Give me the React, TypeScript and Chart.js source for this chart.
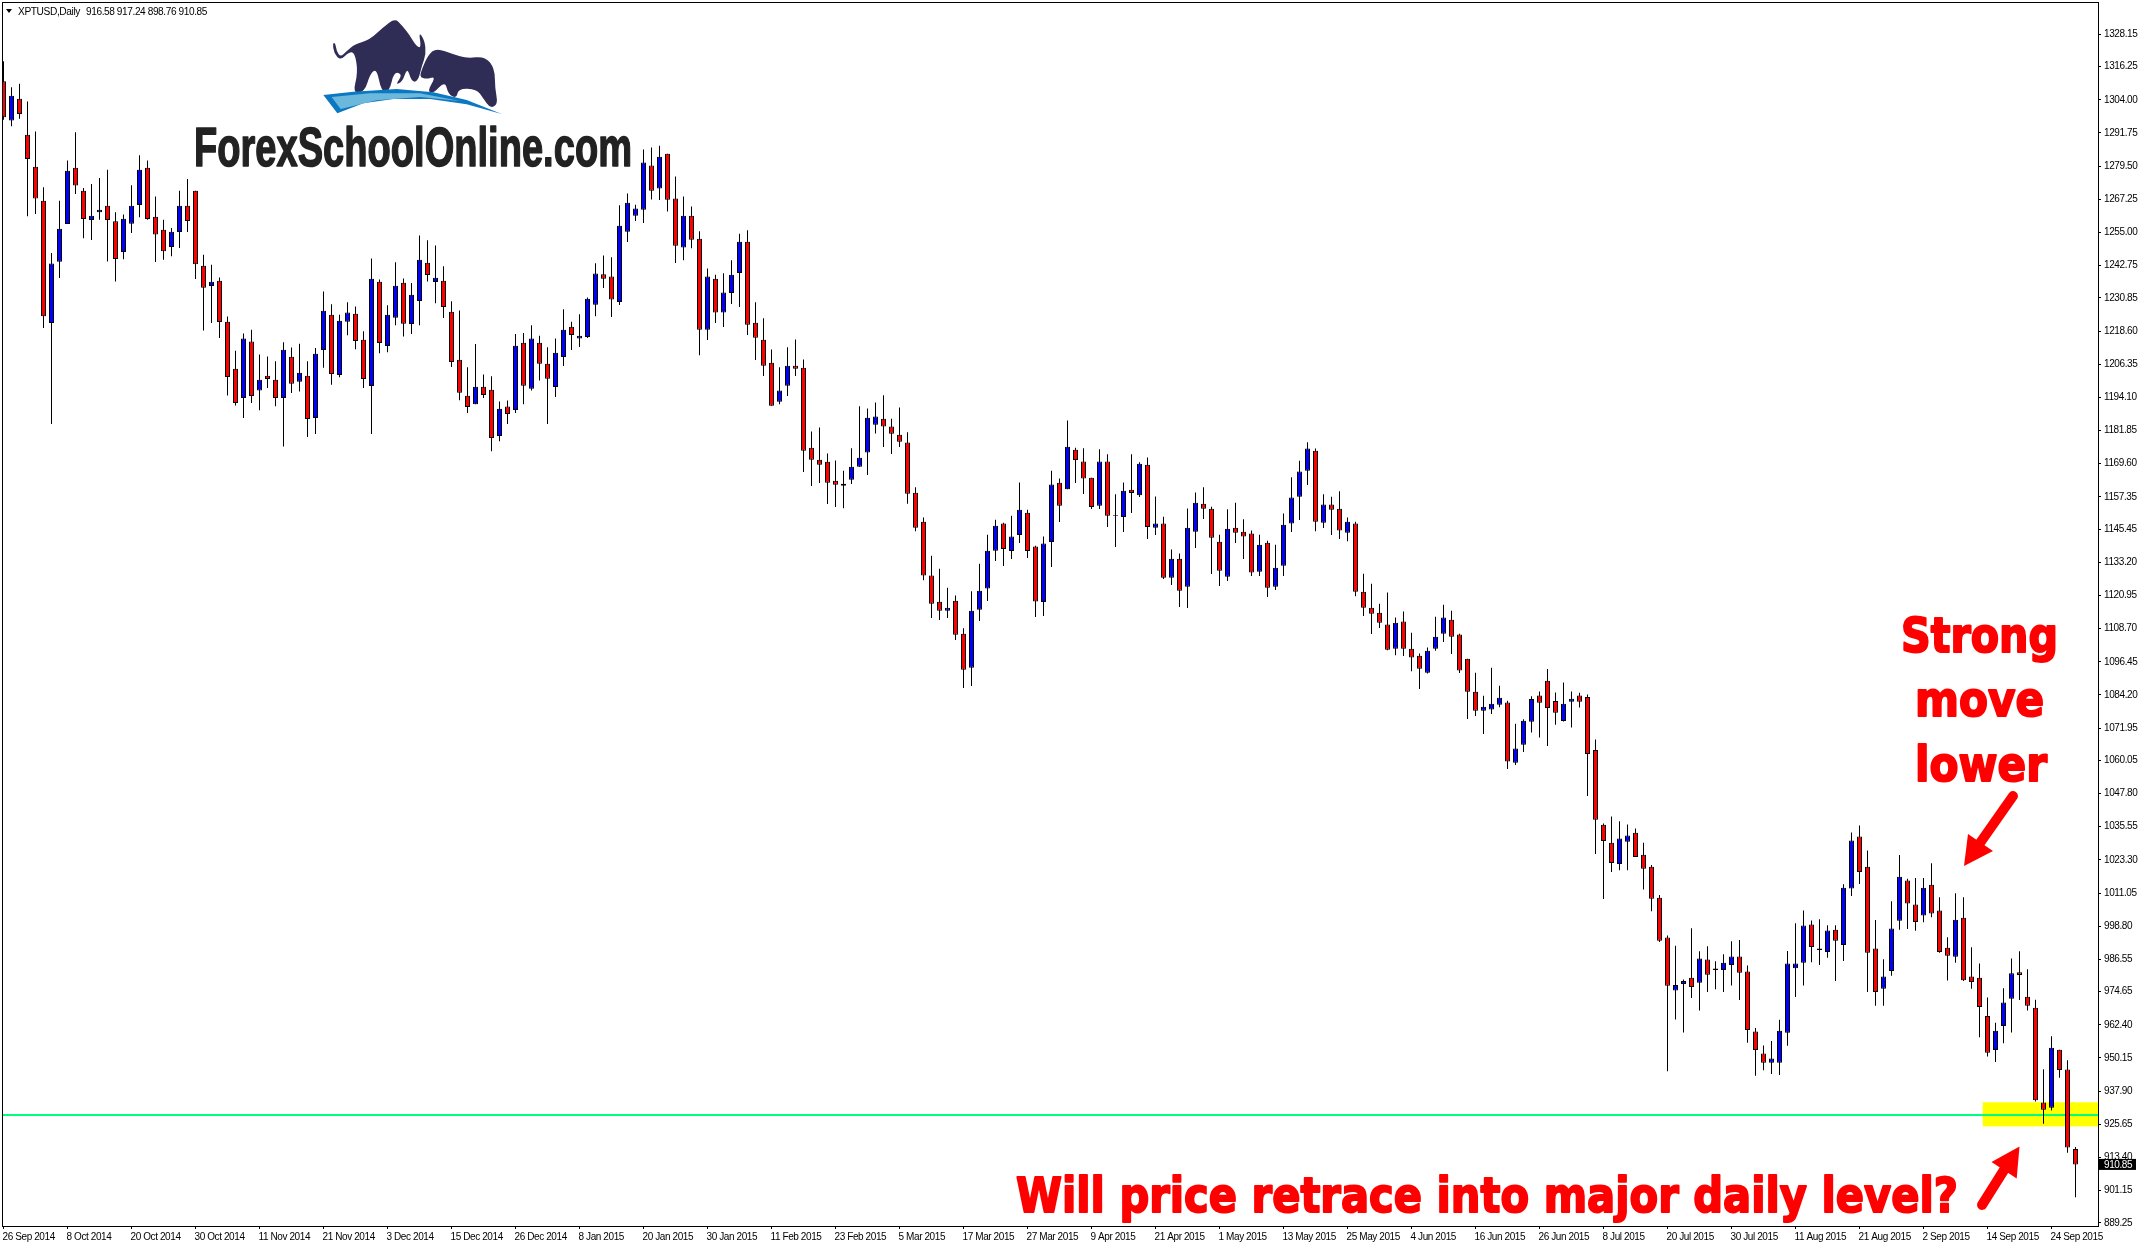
import Chart from 'chart.js/auto';
import { type FC, useEffect, useRef } from 'react';

const opens = [
  1310.8,1296.3,1304.4,1291.1,1279.3,1266.7,1221.6,1244.2,1258.1,1278.9,
  1270.4,1259.6,1262.5,1264.9,1259.1,1247.8,1258.2,1265.1,1278.9,1260.8,
  1256.0,1249.6,1255.2,1264.9,1270.4,1242.7,1235.2,1237.2,1222.0,1204.7,
  1193.9,1214.7,1196.6,1202.1,1200.6,1193.9,1209.1,1199.9,1202.1,1186.5,
  1211.6,1224.6,1202.4,1222.0,1225.0,1215.4,1198.3,1236.8,1213.1,1223.5,
  1236.4,1221.2,1229.7,1243.8,1236.7,1237.2,1225.7,1208.0,1194.7,1191.6,
  1198.0,1196.9,1179.8,1190.7,1189.4,1214.3,1197.3,1214.3,1206.5,1197.9,
  1209.0,1220.2,1215.8,1216.4,1228.3,1239.6,1238.7,1229.3,1255.3,1261.2,
  1263.4,1279.7,1271.2,1284.1,1267.5,1249.4,1261.2,1252.7,1219.1,1237.9,
  1225.4,1232.6,1240.0,1251.6,1221.7,1215.4,1206.9,1192.5,1198.4,1205.8,
  1205.0,1175.5,1171.1,1170.3,1163.3,1162.2,1163.7,1168.5,1173.7,1184.0,
  1186.2,1183.3,1180.3,1177.4,1158.9,1148.2,1128.3,1118.6,1115.3,1119.0,
  1106.8,1094.3,1115.7,1123.5,1137.5,1147.5,1137.4,1143.3,1151.5,1139.0,
  1118.5,1140.7,1162.6,1160.2,1174.8,1170.4,1164.4,1154.1,1170.4,1150.7,
  1149.9,1160.0,1158.0,1169.2,1146.0,1147.5,1127.5,1134.5,1124.2,1144.5,
  1154.8,1153.0,1140.8,1127.9,1146.0,1144.5,1143.8,1129.7,1140.4,1124.2,
  1131.9,1147.5,1157.4,1167.0,1174.4,1147.8,1154.5,1153.0,1144.1,1147.5,
  1122.3,1116.4,1114.6,1110.2,1101.3,1111.3,1101.3,1098.7,1092.4,1101.3,
  1106.8,1112.0,1106.5,1097.6,1085.4,1078.4,1078.8,1080.6,1081.4,1059.2,
  1065.8,1074.3,1084.0,1089.5,1082.0,1074.6,1081.7,1084.0,1083.5,1063.9,
  1036.3,1029.6,1021.8,1030.0,1033.3,1025.2,1020.8,1009.3,994.6,975.1,
  977.5,979.8,977.9,986.5,982.6,982.6,984.5,987.6,982.1,959.9,
  951.8,948.4,948.4,959.5,983.3,985.3,999.4,990.6,989.3,997.5,
  991.9,1012.7,1031.9,1020.8,990.6,975.7,982.3,1000.8,1015.7,1006.8,
  1002.8,1014.1,1004.6,990.9,987.5,1001.9,980.2,979.8,965.7,953.1,
  962.0,972.0,981.8,972.8,968.7,933.7,931.8,953.2,945.9,916.58,
];

const closes = [
  1297.5,1305.5,1298.7,1282.1,1267.5,1224.1,1243.5,1256.4,1277.8,1272.3,
  1260.0,1261.2,1263.4,1259.6,1245.2,1260.1,1264.9,1278.2,1260.0,1254.2,
  1248.1,1255.3,1264.9,1259.2,1243.3,1234.6,1236.8,1221.9,1201.6,1192.0,
  1215.8,1194.6,1200.6,1200.9,1193.9,1211.7,1199.1,1203.2,1186.1,1210.2,
  1226.1,1202.7,1222.4,1225.4,1214.9,1200.9,1237.9,1214.2,1224.6,1235.3,
  1221.3,1232.0,1244.9,1239.3,1238.3,1227.5,1207.2,1195.8,1190.5,1198.0,
  1195.0,1179.1,1189.9,1188.0,1213.2,1198.4,1215.8,1206.5,1201.0,1210.6,
  1219.1,1217.1,1216.9,1230.5,1239.8,1237.9,1230.2,1257.5,1266.0,1263.8,
  1280.8,1270.4,1283.0,1267.1,1250.1,1261.2,1252.3,1219.1,1238.7,1225.4,
  1232.8,1239.4,1251.6,1220.9,1216.1,1205.8,1191.0,1196.6,1205.8,1204.7,
  1174.4,1171.1,1169.2,1162.6,1161.8,1161.5,1168.5,1171.8,1186.6,1187.0,
  1183.3,1180.7,1177.7,1158.5,1146.0,1128.3,1117.9,1115.3,1116.4,1106.4,
  1093.5,1115.3,1122.7,1137.5,1146.7,1138.1,1142.7,1152.6,1137.4,1118.7,
  1140.1,1161.9,1154.1,1175.9,1171.0,1164.1,1153.6,1170.4,1150.4,1150.4,
  1159.6,1158.8,1169.6,1146.2,1147.5,1127.5,1134.5,1122.7,1146.0,1155.2,
  1153.0,1142.3,1130.1,1145.6,1144.1,1142.7,1129.4,1139.7,1123.8,1131.2,
  1147.1,1157.1,1166.7,1175.2,1148.2,1154.5,1152.6,1144.9,1148.2,1122.3,
  1116.4,1114.2,1110.9,1100.9,1110.9,1101.3,1098.0,1093.9,1100.5,1105.7,
  1112.8,1105.7,1093.2,1085.4,1078.4,1079.9,1081.0,1083.2,1059.6,1064.4,
  1074.7,1082.7,1081.3,1079.4,1077.6,1081.0,1082.8,1081.7,1062.4,1038.1,
  1030.3,1022.2,1031.2,1032.3,1024.4,1020.0,1009.0,993.4,976.8,977.1,
  978.6,976.4,986.9,980.9,983.2,985.3,987.6,981.6,960.5,953.1,
  948.4,950.0,960.2,985.0,985.0,999.1,991.1,990.0,997.2,993.4,
  1013.0,1030.5,1018.8,989.0,974.5,980.2,998.0,1017.1,1007.2,1000.4,
  1013.0,1003.5,989.3,987.9,1001.2,978.9,978.2,969.0,952.1,960.2,
  970.6,981.4,980.8,969.4,934.5,931.0,953.9,945.7,917.1,910.85,
];

const highs = [
  1318.2,1308.6,1309.9,1303.4,1292.3,1271.7,1247.4,1266.7,1281.6,1292.0,
  1271.4,1272.9,1275.1,1278.2,1262.5,1261.6,1272.4,1283.5,1281.6,1268.3,
  1259.7,1256.6,1270.4,1274.7,1270.4,1246.8,1243.1,1238.4,1224.0,1211.3,
  1217.7,1219.1,1209.9,1209.2,1207.4,1214.5,1212.5,1213.9,1207.4,1212.3,
  1233.2,1228.5,1224.6,1229.2,1227.7,1218.5,1245.4,1237.6,1228.1,1244.0,
  1238.0,1236.3,1253.9,1252.1,1250.2,1242.5,1229.6,1226.2,1205.2,1213.8,
  1202.5,1201.9,1192.6,1192.9,1217.5,1217.9,1220.7,1216.9,1212.6,1215.8,
  1226.6,1222.0,1224.8,1231.0,1243.6,1246.5,1245.8,1265.0,1269.4,1265.2,
  1285.6,1286.4,1287.0,1284.1,1275.7,1268.3,1264.6,1255.4,1241.7,1239.4,
  1239.9,1244.7,1254.5,1255.8,1229.2,1223.3,1211.8,1205.2,1212.6,1215.5,
  1208.1,1181.5,1183.0,1173.4,1170.8,1167.0,1175.3,1190.8,1190.0,1192.2,
  1194.9,1186.2,1190.4,1181.2,1160.9,1149.7,1135.6,1130.8,1123.8,1120.9,
  1108.8,1122.5,1132.7,1143.4,1148.9,1147.8,1150.4,1162.7,1152.6,1139.3,
  1142.7,1167.0,1164.1,1185.6,1175.5,1175.3,1164.4,1174.9,1173.1,1158.3,
  1162.7,1173.1,1170.1,1171.9,1157.5,1150.0,1137.9,1136.4,1153.1,1159.0,
  1160.9,1153.7,1143.4,1152.8,1155.2,1149.1,1144.9,1143.4,1141.2,1139.7,
  1151.2,1164.6,1170.7,1177.5,1175.2,1158.3,1157.4,1159.4,1149.7,1148.2,
  1129.0,1125.3,1117.9,1122.0,1112.8,1115.0,1107.2,1099.5,1101.7,1113.1,
  1117.5,1115.3,1106.8,1097.6,1092.4,1083.9,1094.3,1087.6,1082.1,1073.6,
  1075.2,1083.7,1085.5,1093.8,1085.1,1088.8,1085.5,1085.0,1084.4,1067.8,
  1036.7,1039.3,1037.6,1036.4,1034.9,1029.6,1021.4,1010.3,995.4,991.6,
  979.1,998.1,989.6,991.4,985.9,988.5,993.3,993.7,984.3,961.2,
  954.8,956.4,964.3,989.7,999.9,1004.6,1000.9,1001.4,999.2,999.2,
  1014.3,1033.4,1036.0,1026.8,1001.1,986.6,1008.0,1025.1,1016.3,1016.6,
  1016.6,1022.1,1009.5,994.7,1011.0,1009.5,991.0,985.0,972.5,963.2,
  975.9,986.9,989.6,982.9,971.7,946.0,958.2,953.2,949.3,917.24,
];

const lows = [
  1296.6,1294.2,1297.0,1261.0,1261.8,1219.7,1184.3,1238.2,1258.1,1269.2,
  1252.9,1252.2,1259.7,1244.3,1236.9,1245.1,1254.8,1260.6,1259.7,1244.1,
  1244.9,1246.2,1249.3,1255.2,1237.8,1218.8,1221.6,1216.0,1194.8,1191.1,
  1186.5,1192.0,1189.3,1197.6,1190.8,1176.0,1195.7,1196.3,1179.5,1180.6,
  1205.0,1198.8,1201.5,1217.0,1211.9,1197.6,1180.6,1210.4,1210.8,1220.7,
  1216.6,1217.5,1220.7,1236.9,1228.9,1223.4,1205.3,1193.0,1188.3,1191.6,
  1193.9,1174.2,1177.9,1184.3,1188.3,1191.6,1196.6,1200.3,1184.3,1194.2,
  1205.7,1211.6,1212.7,1216.0,1224.1,1234.5,1223.8,1228.2,1251.5,1259.2,
  1258.5,1267.2,1267.0,1262.7,1243.7,1244.7,1249.2,1209.7,1215.3,1221.6,
  1220.1,1228.6,1227.5,1217.1,1207.9,1202.0,1191.0,1191.6,1194.6,1202.0,
  1166.5,1161.4,1162.5,1154.7,1153.6,1153.2,1162.1,1168.5,1165.4,1180.8,
  1175.8,1173.2,1175.8,1154.8,1144.7,1126.6,1112.6,1111.9,1112.6,1104.5,
  1086.8,1087.5,1111.5,1118.9,1133.7,1131.8,1134.4,1140.3,1134.8,1113.0,
  1113.4,1131.5,1148.1,1160.2,1162.5,1158.4,1152.9,1152.9,1146.2,1138.8,
  1144.4,1151.4,1157.3,1141.8,1143.3,1127.0,1124.8,1116.7,1116.3,1138.5,
  1149.2,1128.9,1124.4,1126.3,1140.3,1134.4,1128.1,1128.1,1120.4,1123.0,
  1128.1,1144.4,1148.8,1161.7,1144.7,1145.9,1143.3,1141.8,1141.0,1120.7,
  1113.4,1106.7,1108.9,1100.7,1098.9,1098.6,1093.0,1086.4,1092.1,1100.5,
  1103.8,1099.3,1092.3,1075.3,1076.4,1069.8,1077.2,1079.7,1056.9,1058.3,
  1063.1,1070.3,1068.5,1065.4,1073.2,1074.4,1072.2,1079.6,1046.9,1025.5,
  1008.9,1018.8,1019.5,1019.5,1024.4,1012.4,1004.3,993.0,945.3,964.4,
  959.6,972.3,967.7,974.5,975.5,974.5,976.9,971.6,955.8,943.6,
  945.6,944.2,943.9,954.7,972.7,976.9,985.5,984.5,987.2,978.6,
  986.0,1010.0,1014.4,974.5,969.4,969.4,980.5,997.5,997.8,997.1,
  1000.3,1002.1,989.0,978.8,985.3,978.6,975.7,957.8,950.7,948.7,
  955.6,959.6,971.6,967.7,934.1,925.9,930.8,942.9,915.2,898.76,
];

// one label every 8 bars
const dateLabels = [
  '26 Sep 2014','8 Oct 2014','20 Oct 2014','30 Oct 2014','11 Nov 2014','21 Nov 2014','3 Dec 2014','15 Dec 2014','26 Dec 2014',
  '8 Jan 2015','20 Jan 2015','30 Jan 2015','11 Feb 2015','23 Feb 2015','5 Mar 2015','17 Mar 2015','27 Mar 2015','9 Apr 2015',
  '21 Apr 2015','1 May 2015','13 May 2015','25 May 2015','4 Jun 2015','16 Jun 2015','26 Jun 2015','8 Jul 2015','20 Jul 2015',
  '30 Jul 2015','11 Aug 2015','21 Aug 2015','2 Sep 2015','14 Sep 2015','24 Sep 2015',
];

const priceTicks = [
  1328.15,1316.25,1304.0,1291.75,1279.5,1267.25,1255.0,1242.75,1230.85,1218.6,1206.35,1194.1,1181.85,1169.6,1157.35,1145.45,1133.2,1120.95,1108.7,
  1096.45,1084.2,1071.95,1060.05,1047.8,1035.55,1023.3,1011.05,998.8,986.55,974.65,962.4,950.15,937.9,925.65,913.4,901.15,889.25,
];

const BARS_PER_LABEL = 8;
const X_MIN = -0.0625;
const X_MAX = 261.8125;
const Y_MIN = 888.11;
const Y_MAX = 1339.73;
const LEVEL_PRICE = 929.1;
const ZONE_PRICES = [924.9, 933.8];
const ZONE_START_BAR = 247.4;

const TICK_FONT = '"Liberation Sans", sans-serif';
const TICK_SPACING = '-0.4px';
const RED = '#ff0000';
const BLUE = '#0000ff';

const candleColors = opens.map((o, i) => (closes[i] >= o ? BLUE : RED));

// stretch text to the width it has in the picture
const fitText = (
  ctx: CanvasRenderingContext2D,
  text: string,
  x0: number,
  x1: number,
  baseline: number,
  font: string,
  color: string,
  stroke = 0
) => {
  ctx.save();
  ctx.font = font;
  ctx.fillStyle = color;
  ctx.textAlign = 'left';
  ctx.textBaseline = 'alphabetic';
  const w = ctx.measureText(text).width;
  ctx.translate(x0, baseline);
  ctx.scale((x1 - x0) / w, 1);
  ctx.fillText(text, 0, 0);
  if (stroke) {
    ctx.strokeStyle = color;
    ctx.lineWidth = stroke;
    ctx.lineJoin = 'round';
    ctx.strokeText(text, 0, 0);
  }
  ctx.restore();
};

const polygon = (ctx: CanvasRenderingContext2D, pts: number[][], color: string) => {
  ctx.fillStyle = color;
  ctx.beginPath();
  pts.forEach(([x, y], i) => (i ? ctx.lineTo(x, y) : ctx.moveTo(x, y)));
  ctx.closePath();
  ctx.fill();
};

// same outline with the corners rounded off, for the animals
const blob = (ctx: CanvasRenderingContext2D, pts: number[][], color: string) => {
  const mid = (a: number[], b: number[]) => [(a[0] + b[0]) / 2, (a[1] + b[1]) / 2];
  ctx.fillStyle = color;
  ctx.beginPath();
  const start = mid(pts[pts.length - 1], pts[0]);
  ctx.moveTo(start[0], start[1]);
  pts.forEach((p, i) => {
    const m = mid(p, pts[(i + 1) % pts.length]);
    ctx.quadraticCurveTo(p[0], p[1], m[0], m[1]);
  });
  ctx.closePath();
  ctx.fill();
};

const drawArrow = (ctx: CanvasRenderingContext2D, tail: number[], neck: number[], head: number[][]) => {
  ctx.strokeStyle = RED;
  ctx.lineWidth = 10;
  ctx.lineCap = 'round';
  ctx.beginPath();
  ctx.moveTo(tail[0], tail[1]);
  ctx.lineTo(neck[0], neck[1]);
  ctx.stroke();
  polygon(ctx, head, RED);
};

const drawLogo = (ctx: CanvasRenderingContext2D) => {
  ctx.save();
  ctx.translate(320, 15);
  ctx.scale(1 / 3, 1 / 3);
  const navy = '#2f2d56';
  blob(ctx, [[38,84],[46,84],[50,110],[62,126],[80,108],[104,88],[150,74],[190,36],[225,10],[245,30],[270,62],[288,92],[304,100],[296,50],[314,76],[318,118],[306,150],[294,200],[274,200],[262,156],[248,200],[226,210],[248,178],[222,170],[208,230],[184,230],[170,160],[150,178],[134,230],[98,236],[114,172],[104,112],[86,112],[62,136],[42,116]], navy);
  blob(ctx, [[300,176],[325,118],[350,100],[400,118],[440,130],[495,124],[524,160],[525,220],[534,268],[510,280],[490,250],[470,222],[415,220],[410,250],[385,238],[375,198],[340,236],[322,228],[348,184],[320,192],[303,188]], navy);
  polygon(ctx, [[10,240],[100,230],[230,222],[340,232],[440,255],[545,297],[440,268],[330,252],[220,252],[130,265],[52,295]], '#0b78c2');
  polygon(ctx, [[35,246],[150,235],[300,235],[420,258],[300,246],[170,256],[62,282]], '#6cb8dc');
  ctx.restore();
};

// frame, level zone, logo and the hand written notes on top of the chart
const decorations = {
  id: 'decorations',
  beforeDraw(chart: Chart) {
    (chart.ctx as any).letterSpacing = TICK_SPACING;
  },
  beforeDatasetsDraw(chart: Chart) {
    const { ctx, scales, chartArea } = chart;
    const x0 = scales.x.getPixelForValue(ZONE_START_BAR);
    const yTop = scales.y.getPixelForValue(ZONE_PRICES[1]);
    const yBottom = scales.y.getPixelForValue(ZONE_PRICES[0]);
    ctx.save();
    ctx.fillStyle = '#ffff00';
    ctx.fillRect(x0, yTop, chartArea.right - x0, yBottom - yTop);
    ctx.restore();
  },
  afterDraw(chart: Chart) {
    const { ctx, scales, chartArea } = chart;
    ctx.save();
    ctx.strokeStyle = '#000000';
    ctx.lineWidth = 1;
    ctx.strokeRect(chartArea.left - 0.5, chartArea.top - 0.5, chartArea.right - chartArea.left + 1, chartArea.bottom - chartArea.top + 1);

    polygon(ctx, [[6,9],[12,9],[9,13]], '#000000');
    fitText(ctx, 'XPTUSD,Daily', 18, 80, 15, `10px ${TICK_FONT}`, '#000000');
    fitText(ctx, '916.58 917.24 898.76 910.85', 86, 207, 15, `10px ${TICK_FONT}`, '#000000');

    // current price tag, text still with the tick spacing
    const lastClose = closes[closes.length - 1];
    const yLast = scales.y.getPixelForValue(lastClose);
    ctx.fillStyle = '#000000';
    ctx.fillRect(2099, yLast - 5.5, 37, 11);
    ctx.fillStyle = '#ffffff';
    ctx.font = `10px ${TICK_FONT}`;
    ctx.textBaseline = 'middle';
    ctx.fillText(lastClose.toFixed(2), 2104, yLast + 0.5);

    (ctx as any).letterSpacing = '0px';
    drawLogo(ctx);
    fitText(ctx, 'ForexSchoolOnline.com', 194, 632, 166, 'bold 56px "Liberation Sans", sans-serif', '#222222', 1.5);

    const note = 'bold 48px "DejaVu Sans", sans-serif';
    fitText(ctx, 'Strong', 1901, 2058, 652, note, RED, 2);
    fitText(ctx, 'move', 1915, 2044, 716, note, RED, 2);
    fitText(ctx, 'lower', 1915, 2047, 781, note, RED, 2);
    fitText(ctx, 'Will price retrace into major daily level?', 1016, 1958, 1212, note, RED, 2);

    drawArrow(ctx, [2013, 796], [1980, 843], [[1964, 866], [1968, 834], [1993, 851]]);
    drawArrow(ctx, [1982, 1205], [2004, 1170], [[2019.5, 1146.5], [1991.5, 1162], [2016.7, 1178.5]]);
    ctx.restore();
  },
};

const App: FC = () => {
  const chartRef = useRef<HTMLCanvasElement>(null);

  useEffect(() => {
    if (!chartRef.current) return;
    document.body.style.margin = '0';

    const chart = new Chart(chartRef.current, {
      type: 'bar',
      data: {
        datasets: [
          {
            type: 'bar',
            data: opens.map((o, i) => ({ x: i, y: [o, closes[i]] })),
            backgroundColor: candleColors,
            borderColor: '#000000',
            borderWidth: 1,
            borderSkipped: false,
            inflateAmount: 0,
            barThickness: 5,
            grouped: false,
            order: 1,
          },
          {
            type: 'bar',
            data: lows.map((l, i) => ({ x: i, y: [l, highs[i]] })),
            backgroundColor: '#000000',
            borderWidth: 0,
            inflateAmount: 0,
            barThickness: 1,
            grouped: false,
            order: 2,
          },
          {
            type: 'line',
            data: [
              { x: X_MIN, y: LEVEL_PRICE },
              { x: X_MAX, y: LEVEL_PRICE },
            ],
            borderColor: '#00ff7f',
            borderWidth: 2,
            pointRadius: 0,
            order: 3,
          },
        ],
      } as any,
      options: {
        responsive: false,
        animation: false,
        devicePixelRatio: 1,
        layout: { padding: { left: 3, top: 3, right: 0, bottom: 0 } },
        plugins: {
          legend: { display: false },
          tooltip: { enabled: false },
        },
        scales: {
          x: {
            type: 'linear',
            offset: false,
            min: X_MIN,
            max: X_MAX,
            afterFit: (scale: any) => {
              scale.height = 17;
              scale.paddingLeft = 0;
              scale.paddingRight = 0;
            },
            afterBuildTicks: (scale: any) => {
              scale.ticks = dateLabels.map((_, i) => ({ value: i * BARS_PER_LABEL }));
            },
            grid: { offset: false, drawOnChartArea: false, drawTicks: true, tickLength: 3, tickColor: '#000000' },
            border: { color: '#000000' },
            ticks: {
              autoSkip: false,
              maxRotation: 0,
              minRotation: 0,
              align: 'start',
              labelOffset: -1,
              padding: 2,
              color: '#000000',
              font: { family: TICK_FONT, size: 10 },
              callback: (value: any) => dateLabels[Number(value) / BARS_PER_LABEL] ?? '',
            },
          },
          y: {
            type: 'linear',
            position: 'right',
            min: Y_MIN,
            max: Y_MAX,
            afterFit: (scale: any) => {
              scale.width = 40;
              scale.paddingTop = 0;
              scale.paddingBottom = 0;
            },
            afterBuildTicks: (scale: any) => {
              scale.ticks = priceTicks.map(value => ({ value }));
            },
            grid: { drawOnChartArea: false, drawTicks: true, tickLength: 3, tickColor: '#000000' },
            border: { color: '#000000' },
            ticks: {
              autoSkip: false,
              padding: 3,
              color: '#000000',
              font: { family: TICK_FONT, size: 10 },
              callback: (value: any) => Number(value).toFixed(2),
            },
          },
        },
      },
      plugins: [decorations],
    } as any);

    return () => {
      chart.destroy();
    };
  }, []);

  return <canvas ref={chartRef} width={2138} height={1243} style={{ display: 'block' }} />;
};

export default App;
